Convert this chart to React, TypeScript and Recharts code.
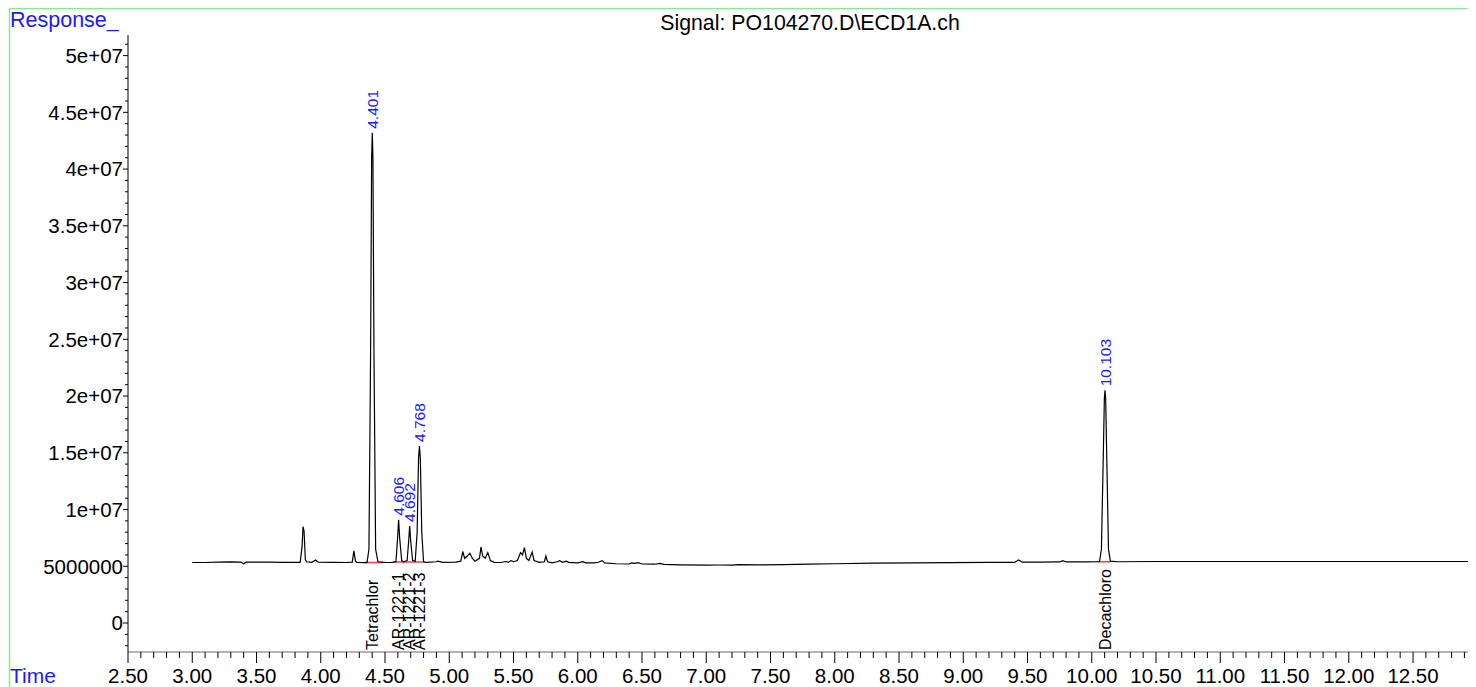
import { LineChart, Line, XAxis, YAxis, ReferenceLine, ReferenceDot } from 'recharts';

const FONT = '"Liberation Sans", Arial, Helvetica, sans-serif';
const BLUE = '#1a1aff';
const WIDTH = 1468;
const HEIGHT = 679;

// detector trace: retention time (min) and response (counts)
const traceTime = [
  3.0, 3.1, 3.2, 3.3, 3.38, 3.4, 3.42, 3.5, 3.6, 3.7, 3.8, 3.84,
  3.855, 3.862, 3.87, 3.88, 3.89, 3.93, 3.96, 3.98, 4.1, 4.2, 4.245, 4.258,
  4.27, 4.28, 4.36, 4.375, 4.388, 4.396, 4.401, 4.406, 4.414, 4.427, 4.445, 4.5,
  4.55, 4.585, 4.598, 4.606, 4.614, 4.63, 4.645, 4.672, 4.684, 4.692, 4.7, 4.715,
  4.735, 4.75, 4.761, 4.768, 4.775, 4.786, 4.8, 4.82, 4.9, 4.91, 4.95, 5.05,
  5.09, 5.105, 5.12, 5.14, 5.16, 5.18, 5.2, 5.235, 5.247, 5.26, 5.28, 5.3,
  5.32, 5.35, 5.4, 5.44, 5.46, 5.48, 5.5, 5.53, 5.555, 5.57, 5.585, 5.6,
  5.62, 5.645, 5.66, 5.7, 5.74, 5.752, 5.765, 5.8, 5.84, 5.86, 5.88, 5.91,
  5.93, 6.0, 6.04, 6.06, 6.13, 6.16, 6.19, 6.21, 6.3, 6.4, 6.42, 6.44,
  6.47, 6.5, 6.6, 6.64, 6.67, 6.8, 7.0, 7.1, 7.2, 7.25, 7.4, 7.6,
  7.8, 8.0, 8.3, 8.6, 8.9, 9.2, 9.4, 9.43, 9.46, 9.6, 9.75, 9.775,
  9.8, 9.95, 10.06, 10.075, 10.09, 10.098, 10.103, 10.108, 10.116, 10.13, 10.145, 10.2,
  10.5, 11.0, 11.5, 12.0, 12.5, 12.99,
];
const traceResponse = [
  5.33e6, 5.33e6, 5.36e6, 5.38e6, 5.36e6, 5.22e6, 5.36e6, 5.37e6, 5.36e6, 5.35e6, 5.34e6, 5.34e6,
  6.8e6, 8.5e6, 8.1e6, 5.6e6, 5.4e6, 5.35e6, 5.55e6, 5.36e6, 5.34e6, 5.33e6, 5.36e6, 6.35e6,
  5.45e6, 5.35e6, 5.33e6, 6.5e6, 2.4e7, 4.1e7, 4.32e7, 4.1e7, 2.4e7, 6.5e6, 5.4e6, 5.34e6,
  5.33e6, 5.4e6, 7.5e6, 9.1e6, 7.5e6, 5.5e6, 5.4e6, 5.5e6, 7.2e6, 8.55e6, 7.2e6, 5.5e6,
  5.45e6, 8.0e6, 1.45e7, 1.56e7, 1.45e7, 8.0e6, 5.4e6, 5.35e6, 5.4e6, 5.45e6, 5.35e6, 5.36e6,
  5.45e6, 6.3e6, 5.7e6, 5.9e6, 6.15e6, 5.7e6, 5.45e6, 5.7e6, 6.7e6, 5.9e6, 5.7e6, 6.2e6,
  5.5e6, 5.35e6, 5.33e6, 5.42e6, 5.35e6, 5.5e6, 5.4e6, 5.5e6, 6.2e6, 6.0e6, 6.65e6, 5.7e6,
  5.5e6, 6.25e6, 5.5e6, 5.35e6, 5.4e6, 5.9e6, 5.4e6, 5.3e6, 5.4e6, 5.5e6, 5.35e6, 5.45e6,
  5.35e6, 5.3e6, 5.4e6, 5.3e6, 5.3e6, 5.35e6, 5.5e6, 5.3e6, 5.22e6, 5.2e6, 5.3e6, 5.25e6,
  5.32e6, 5.2e6, 5.18e6, 5.25e6, 5.16e6, 5.13e6, 5.1e6, 5.11e6, 5.1e6, 5.14e6, 5.12e6, 5.14e6,
  5.18e6, 5.22e6, 5.27e6, 5.29e6, 5.32e6, 5.34e6, 5.35e6, 5.55e6, 5.36e6, 5.37e6, 5.38e6, 5.5e6,
  5.38e6, 5.39e6, 5.4e6, 6.5e6, 1.5e7, 1.98e7, 2.05e7, 1.98e7, 1.5e7, 6.5e6, 5.45e6, 5.4e6,
  5.42e6, 5.42e6, 5.42e6, 5.42e6, 5.42e6, 5.42e6,
];

// identified peaks
const peakTimes = [4.401, 4.606, 4.692, 4.768, 10.103];
const compoundNames = ['Tetrachlor', 'AR-1221-1', 'AR-1221-2', 'AR-1221-3', 'Decachloro'];

// integration baselines
const baselineStart = [4.335, 4.56, 10.05];
const baselineEnd = [4.48, 4.81, 10.15];
const baselineLevel = [5.33e6, 5.38e6, 5.4e6];

const xTickLabels = [
  '2.50', '3.00', '3.50', '4.00', '4.50', '5.00', '5.50', '6.00', '6.50', '7.00', '7.50',
  '8.00', '8.50', '9.00', '9.50', '10.00', '10.50', '11.00', '11.50', '12.00', '12.50',
];
const yTickValues = [0, 5e6, 1e7, 1.5e7, 2e7, 2.5e7, 3e7, 3.5e7, 4e7, 4.5e7, 5e7];
const yTickLabels = [
  '0', '5000000', '1e+07', '1.5e+07', '2e+07', '2.5e+07', '3e+07', '3.5e+07', '4e+07', '4.5e+07', '5e+07',
];

const X_DOMAIN: [number, number] = [2.5, 12.99];
const Y_DOMAIN: [number, number] = [-2.555e6, 5.1815e7];

const data = traceTime.map((t, i) => ({ t, r: traceResponse[i] }));
const xMajor = xTickLabels.map(Number);
const xTicks = Array.from({ length: 105 }, (_, i) => +(2.5 + i * 0.1).toFixed(1));
const yTicks = Array.from({ length: 54 }, (_, i) => (i - 2) * 1e6);

const responseAt = (t: number) => traceResponse[traceTime.indexOf(t)];

function TimeTick({ x, y, payload }: any) {
  const idx = xMajor.findIndex((m) => Math.abs(m - payload.value) < 1e-6);
  const major = idx >= 0;
  return (
    <g>
      <line x1={x} x2={x} y1={y} y2={y + (major ? 11 : 6)} stroke="#000" strokeWidth={1} />
      {major && (
        <text x={x} y={y + 31} textAnchor="middle" fontSize={20.5} fontFamily={FONT} fill="#000">
          {xTickLabels[idx]}
        </text>
      )}
    </g>
  );
}

function ResponseTick({ x, y, payload }: any) {
  const idx = yTickValues.indexOf(payload.value);
  const major = idx >= 0;
  return (
    <g>
      <line x1={x} x2={x - (major ? 5 : 3)} y1={y} y2={y} stroke="#000" strokeWidth={1} />
      {major && (
        <text x={x - 5} y={y} dy="0.36em" textAnchor="end" fontSize={20.5} fontFamily={FONT} fill="#000">
          {yTickLabels[idx]}
        </text>
      )}
    </g>
  );
}

const retentionLabel = (text: string) => (props: any) => (
  <text
    transform={`translate(${props.cx + 5.5},${props.cy - 4}) rotate(-90)`}
    fontSize={15.5}
    fontFamily={FONT}
    fill={BLUE}
  >
    {text}
  </text>
);

const compoundLabel = (text: string) => (props: any) => (
  <text
    transform={`translate(${props.cx + 5.5},${props.cy - 2}) rotate(-90)`}
    fontSize={16}
    fontFamily={FONT}
    fill="#000"
  >
    {text}
  </text>
);

export default function App() {
  return (
    <div style={{ position: 'relative', width: WIDTH, height: HEIGHT }}>
      <LineChart
        width={WIDTH}
        height={HEIGHT}
        data={data}
        margin={{ top: 27, right: 0, bottom: 0, left: 0 }}
      >
        <XAxis
          dataKey="t"
          type="number"
          domain={X_DOMAIN}
          allowDataOverflow
          ticks={xTicks}
          interval={0}
          tick={<TimeTick />}
          tickSize={0}
          tickMargin={0}
          tickLine={false}
          height={35}
          axisLine={{ stroke: '#9a9a9a', strokeWidth: 1.5 }}
        />
        <YAxis
          type="number"
          domain={Y_DOMAIN}
          allowDataOverflow
          ticks={yTicks}
          interval={0}
          tick={<ResponseTick />}
          tickSize={0}
          tickMargin={0}
          tickLine={false}
          width={120}
          axisLine={{ stroke: '#000', strokeWidth: 1 }}
        />
        {baselineStart.map((s, i) => (
          <ReferenceLine
            key={`bl-${i}`}
            segment={[
              { x: s, y: baselineLevel[i] },
              { x: baselineEnd[i], y: baselineLevel[i] },
            ]}
            stroke="#ff3b3b"
            strokeWidth={1.5}
          />
        ))}
        <Line
          dataKey="r"
          type="linear"
          stroke="#000"
          strokeWidth={1.2}
          dot={false}
          activeDot={false}
          isAnimationActive={false}
        />
        {peakTimes.map((t, i) => (
          <ReferenceDot
            key={`rt-${i}`}
            x={t}
            y={responseAt(t)}
            r={0}
            ifOverflow="visible"
            shape={retentionLabel(t.toFixed(3))}
          />
        ))}
        {peakTimes.map((t, i) => (
          <ReferenceDot
            key={`name-${i}`}
            x={t}
            y={Y_DOMAIN[0]}
            r={0}
            ifOverflow="visible"
            shape={compoundLabel(compoundNames[i])}
          />
        ))}
      </LineChart>
      <svg
        width={WIDTH}
        height={HEIGHT}
        style={{ position: 'absolute', left: 0, top: 0, pointerEvents: 'none' }}
      >
        <line x1={1} x2={WIDTH} y1={0.5} y2={0.5} stroke="#86ee86" strokeWidth={1.5} />
        <line x1={1.5} x2={1.5} y1={0} y2={HEIGHT} stroke="#86ee86" strokeWidth={1.5} />
        <text x={2} y={19} fontSize={21.5} fontFamily={FONT} fill={BLUE}>
          Response_
        </text>
        <text x={802} y={22} textAnchor="middle" fontSize={21.3} fontFamily={FONT} fill="#000">
          Signal: PO104270.D\ECD1A.ch
        </text>
        <text x={2} y={675} fontSize={21} fontFamily={FONT} fill={BLUE}>
          Time
        </text>
      </svg>
    </div>
  );
}
